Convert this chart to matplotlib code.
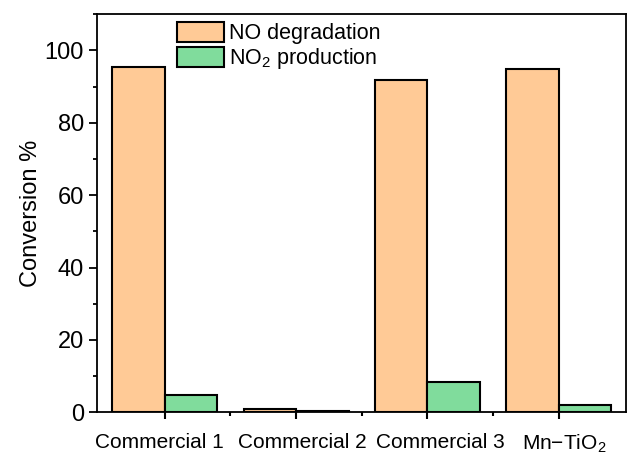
import numpy as np
import matplotlib
matplotlib.use('Agg')
import matplotlib.pyplot as plt
import matplotlib.transforms as mtransforms
from matplotlib.patches import Patch
from matplotlib.ticker import MultipleLocator, FixedLocator

plt.rcParams['font.family'] = ['Liberation Sans', 'DejaVu Sans']
plt.rcParams['mathtext.fontset'] = 'custom'
plt.rcParams['mathtext.rm'] = 'Liberation Sans'
plt.rcParams['mathtext.it'] = 'Liberation Sans:italic'

# Conversion data per sample
samples = ['Commercial 1', 'Commercial 2', 'Commercial 3', 'Mn\u2212TiO$_2$']
no_degradation = [95.4, 0.8, 91.8, 95.0]
no2_production = [4.8, 0.3, 8.3, 2.0]

orange = '#FFCA96'
green = '#80DC9C'

fig = plt.figure(figsize=(6.27, 4.57), dpi=100)
ax = fig.add_axes([0.154, 0.0978, 0.844, 0.871])

x = np.arange(len(samples))
w = 0.4
ax.bar(x - w / 2, no_degradation, w, color=orange, edgecolor='black', linewidth=1.5)
ax.bar(x + w / 2, no2_production, w, color=green, edgecolor='black', linewidth=1.5)

ax.set_xlim(-0.52, 3.51)
ax.set_ylim(0, 110)

ax.set_xticks(x)
ax.set_xticklabels(samples, fontsize=15)
ax.xaxis.set_minor_locator(FixedLocator([0.5, 1.5, 2.5]))
ax.yaxis.set_major_locator(MultipleLocator(20))
ax.yaxis.set_minor_locator(MultipleLocator(10))
ax.tick_params(axis='y', which='major', labelsize=17, length=6, width=1.3, pad=3)
ax.tick_params(axis='y', which='minor', length=3, width=1.3)
ax.tick_params(axis='x', which='major', length=5, width=1.5, pad=10)
ax.tick_params(axis='x', which='minor', length=3, width=1.5)

# nudge the category labels sideways so they don't run into each other
shifts = [-5, 6, 13, 5]
for lab, dx in zip(ax.get_xticklabels(), shifts):
    lab.set_transform(lab.get_transform() +
                      mtransforms.ScaledTranslation(dx / 100, 0, fig.dpi_scale_trans))

for s in ax.spines.values():
    s.set_linewidth(1.3)

ax.set_ylabel('Conversion %', fontsize=17, labelpad=2)

handles = [Patch(facecolor=orange, edgecolor='black', linewidth=1.5),
           Patch(facecolor=green, edgecolor='black', linewidth=1.5)]
fig.legend(handles, ['NO degradation', 'NO$_2$ production'],
           loc='upper left', bbox_to_anchor=(177 / 627, 1 - 22 / 457),
           frameon=False, fontsize=15.5, borderpad=0, borderaxespad=0,
           handlelength=2.2, handleheight=1.05, handletextpad=0.2,
           labelspacing=0.08)

fig.savefig('out.png', dpi=100)
